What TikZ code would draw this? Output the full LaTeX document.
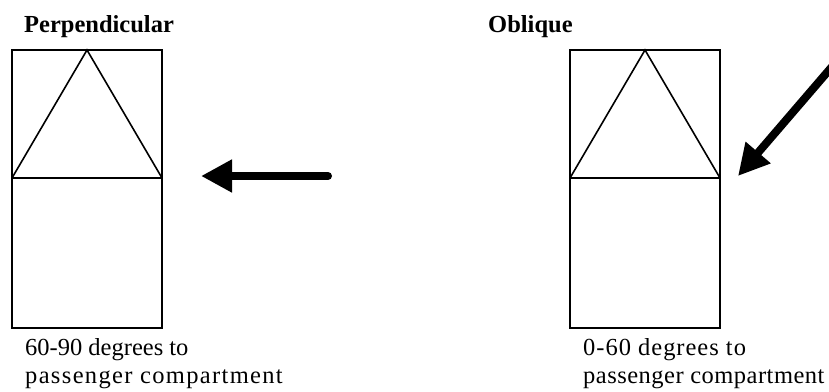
\documentclass[tikz,border=0pt]{standalone}
\usepackage{fontspec}
\setmainfont{Liberation Serif}
\usetikzlibrary{arrows.meta}
\begin{document}
\begin{tikzpicture}[x=1pt,y=-1pt,
  outline/.style={draw=black,line width=1.6pt},
  bigarrow/.style={line width=8pt,line cap=round,-{Triangle[length=31pt,width=31pt]}},
  title/.style={anchor=base west,inner sep=0pt,font=\fontsize{24.5}{28}\selectfont\bfseries},
  caption/.style={anchor=base west,inner sep=0pt,font=\fontsize{24.5}{28}\selectfont}]
\useasboundingbox (0,0) rectangle (829,391);
% left figure
\node[title] (tl) at (24,32) {Perpendicular};
\draw[outline] (12,50) rectangle (162,328);
\draw[outline] (12,178) -- (162,178);
\draw[outline] (12,178) -- (87,50) -- (162,178);
\coordinate (la) at (328,176);
\coordinate (lb) at (201,176);
\draw[bigarrow] (la) -- (lb);
\node[caption] (c1) at (25,355) {60-90 degrees to};
\node[caption] (c2) at (25,383) {\addfontfeature{LetterSpace=5.5}passenger compartment};
% right figure
\node[title] (tr) at (488,32) {Oblique};
\draw[outline] (570,50) rectangle (720,328);
\draw[outline] (570,178) -- (720,178);
\draw[outline] (570,178) -- (645,50) -- (720,178);
\coordinate (ra) at (836,62);
\coordinate (rb) at (738,176);
\draw[bigarrow] (ra) -- (rb);
\node[caption] (c3) at (583,355) {\addfontfeature{LetterSpace=4}0-60 degrees to};
\node[caption] (c4) at (583,383) {\addfontfeature{LetterSpace=2}passenger compartment};
\end{tikzpicture}
\end{document}
